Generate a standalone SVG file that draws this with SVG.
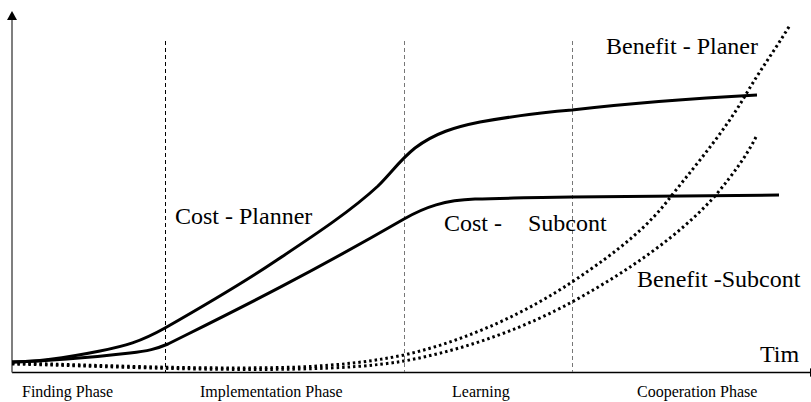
<svg xmlns="http://www.w3.org/2000/svg" width="811" height="402" viewBox="0 0 811 402">
<style>
.lbl{font-family:"Liberation Serif","Times New Roman",serif;font-size:24px;fill:#000}
.ph{font-family:"Liberation Serif","Times New Roman",serif;font-size:16px;fill:#000}
.solid{fill:none;stroke:#000;stroke-width:3;stroke-linecap:butt}
.dot{fill:none;stroke:#000;stroke-width:3;stroke-dasharray:2.5 3}
.div{fill:none;stroke-width:1;stroke-dasharray:4 3}
</style>
<rect width="811" height="402" fill="#fff"/>
<g id="axes">
<line x1="12" y1="372.5" x2="810" y2="372.5" stroke="#000" stroke-width="1.5"/>
<polygon points="810,368 817,372.5 810,377" fill="#000"/>
<line x1="12" y1="18" x2="12" y2="372.5" stroke="#555" stroke-width="1.5"/>
<polygon points="12,11 7,20 17,20" fill="#000"/>
</g>
<g id="dividers">
<line class="div" x1="165.5" y1="41" x2="165.5" y2="372" stroke="#000"/>
<line class="div" x1="404.5" y1="41" x2="404.5" y2="372" stroke="#777"/>
<line class="div" x1="572.5" y1="41" x2="572.5" y2="372" stroke="#777"/>
</g>
<g id="connectors">
<path id="cost-planner" class="solid" d="M12,362 C40,362 70,357 100,351 C125,346 140,342 165,328 C200,308 240,285 277,260 C310,238 350,212 378,186 C392,172 400,160 415,148 C435,133 455,127 480,122 C520,115 545,112 572,110 C640,102 700,98 757,95"/>
<path id="cost-subcont" class="solid" d="M12,362 C50,361 95,357 130,353 C148,351 156,349 168,344 C230,313 300,279 404,219 C425,207 445,200 475,199 C520,198 550,197 572,197 L779,195"/>
<path id="benefit-planer" class="dot" d="M12,363 C100,365 200,370 300,367 C340,365 370,362 404,355 C470,340 530,310 572,282 C620,250 650,225 672,195 C700,160 725,130 745,96 C760,70 775,50 790,25"/>
<path id="benefit-subcont" class="dot" d="M12,364 C100,366 200,371 300,369 C340,368 375,366 404,361 C470,349 530,325 572,302 C630,270 680,235 715,196 C735,172 747,155 757,135"/>
</g>
<g id="label-cost-planner"><text class="lbl" x="175" y="224">Cost - Planner</text></g>
<g id="label-cost-subcont"><text class="lbl" x="444" y="231">Cost -</text><text class="lbl" x="528" y="231">Subcont</text></g>
<g id="label-benefit-planer"><text class="lbl" x="606" y="54">Benefit - Planer</text></g>
<g id="label-benefit-subcont"><text class="lbl" x="637" y="287">Benefit -Subcont</text></g>
<g id="label-time"><text class="lbl" x="760" y="362">Tim</text></g>
<g id="phases">
<text class="ph" x="22" y="397">Finding Phase</text>
<text class="ph" x="200" y="397">Implementation Phase</text>
<text class="ph" x="452" y="397">Learning</text>
<text class="ph" x="637" y="397">Cooperation Phase</text>
</g>
</svg>
